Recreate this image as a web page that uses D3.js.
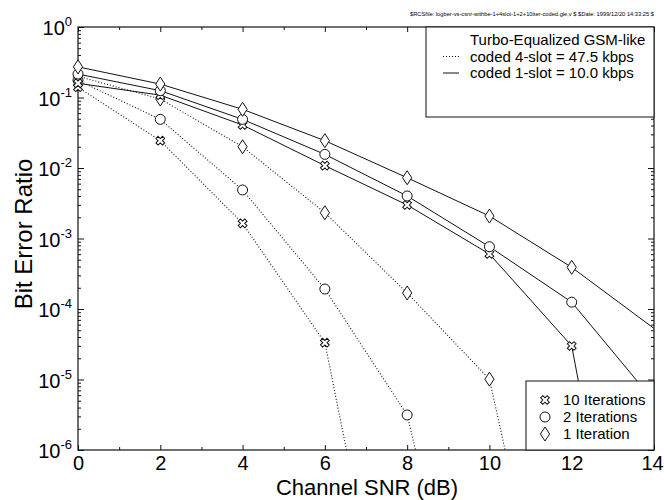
<!DOCTYPE html>
<meta charset="utf-8">
<script src="https://cdn.jsdelivr.net/npm/d3@7"></script>
<style>
    body { margin: 0; background: #fff; }
    text { font-family: 'Liberation Sans', Arial, sans-serif; fill: #000; }
</style>
<div id="chart"></div>
<script>
    // channel SNR in dB
    const snr = [0, 2, 4, 6, 8, 10, 12, 14];

    // coded 1-slot = 10.0 kbps (solid)
    const slot1Iter1 = [0.272, 0.155, 0.068, 0.0244, 0.00728, 0.00208, 3.9e-4, 5.3e-5];
    const slot1Iter2 = [0.215, 0.125, 0.049, 0.0156, 0.00401, 7.65e-4, 1.25e-4, 4.9e-6];
    const slot1Iter10 = [0.159, 0.108, 0.0407, 0.0108, 0.00299, 6.03e-4, 2.99e-5, 2.1e-11];

    // coded 4-slot = 47.5 kbps (dotted)
    const slot4Iter1 = [0.2, 0.0952, 0.02, 0.00232, 1.69e-4, 1.01e-5, 5.4e-11, null];
    const slot4Iter2 = [0.175, 0.049, 0.00488, 1.92e-4, 3.14e-6, 4.3e-11, null, null];
    const slot4Iter10 = [0.14, 0.0244, 0.00164, 3.33e-5, 5.4e-11, null, null, null];

    const xMajorTicks = [0, 2, 4, 6, 8, 10, 12, 14];
    const xMinorTicks = [1, 3, 5, 7, 9, 11, 13];
    const yExponents = [0, -1, -2, -3, -4, -5, -6];

    const header = "$RCSfile: logber-vs-csnr-withbe-1+4slot-1+2+10iter-coded.gle,v $ $Date: 1999/12/20 14:33:25 $";
    const legendSlots = ["Turbo-Equalized GSM-like", "coded 4-slot = 47.5 kbps", "coded 1-slot = 10.0 kbps"];
    const legendIters = ["10 Iterations", "2 Iterations", "1 Iteration"];

    let margin = {top: 27, right: 10, bottom: 50, left: 78},
        width = 664 - margin.left - margin.right,
        height = 500 - margin.top - margin.bottom;

    let svg = d3.select("#chart")
        .append("svg")
        .attr("width", 664)
        .attr("height", 500);

    let g = svg.append("g")
        .attr("transform", "translate(" + margin.left + "," + margin.top + ")");

    let x = d3.scaleLinear().domain([0, 14]).range([0, width]);
    let y = d3.scaleLog().domain([1e-6, 1]).range([height, 0]);

    // minor log ticks 2..9 in each decade
    let yMinor = [];
    for (let e = -6; e < 0; e++) {
        for (let m = 2; m <= 9; m++) yMinor.push(m * Math.pow(10, e));
    }

    function styleAxis(sel) {
        sel.select(".domain").remove();
        sel.selectAll("line").attr("stroke", "#111").attr("stroke-width", 1);
    }

    // bottom axis
    g.append("g")
        .attr("transform", "translate(0," + height + ")")
        .call(d3.axisBottom(x).tickValues(xMajorTicks).tickSizeInner(-5).tickSizeOuter(0).tickPadding(6))
        .call(styleAxis)
        .selectAll("text")
        .style("font-size", "20px")
        .style("font-family", "'Liberation Sans', Arial, sans-serif")
        .filter(function (d) { return d === 14; })
        .attr("dx", "-2px");
    g.append("g")
        .attr("transform", "translate(0," + height + ")")
        .call(d3.axisBottom(x).tickValues(xMinorTicks).tickSize(-3).tickFormat(""))
        .call(styleAxis);
    // top axis
    g.append("g")
        .call(d3.axisTop(x).tickValues(xMajorTicks).tickSize(-5).tickFormat(""))
        .call(styleAxis);
    g.append("g")
        .call(d3.axisTop(x).tickValues(xMinorTicks).tickSize(-3).tickFormat(""))
        .call(styleAxis);

    // left / right axes
    let yMajor = yExponents.map(function (e) { return Math.pow(10, e); });
    g.append("g")
        .call(d3.axisLeft(y).tickValues(yMajor).tickSize(-6).tickFormat(""))
        .call(styleAxis);
    g.append("g")
        .call(d3.axisLeft(y).tickValues(yMinor).tickSize(-3).tickFormat(""))
        .call(styleAxis);
    g.append("g")
        .attr("transform", "translate(" + width + ",0)")
        .call(d3.axisRight(y).tickValues(yMajor).tickSize(-6).tickFormat(""))
        .call(styleAxis);
    g.append("g")
        .attr("transform", "translate(" + width + ",0)")
        .call(d3.axisRight(y).tickValues(yMinor).tickSize(-3).tickFormat(""))
        .call(styleAxis);

    // y tick labels 10^n
    yExponents.forEach(function (e) {
        let t = g.append("text")
            .attr("x", -6)
            .attr("y", y(Math.pow(10, e)) + 8)
            .attr("text-anchor", "end");
        t.append("tspan").style("font-size", "20px").text("10");
        t.append("tspan").style("font-size", "13px").attr("dy", -9).text(e);
    });

    // frame
    g.append("rect")
        .attr("width", width)
        .attr("height", height)
        .attr("fill", "none")
        .attr("stroke", "#111")
        .attr("stroke-width", 1.2);

    // clip for the curves
    svg.append("clipPath").attr("id", "plotclip")
        .append("rect").attr("width", width).attr("height", height);

    let line = d3.line()
        .defined(function (d) { return d[1] !== null; })
        .x(function (d) { return x(d[0]); })
        .y(function (d) { return y(d[1]); });

    const series = [
        {v: slot4Iter10, dotted: true, mark: "cross"},
        {v: slot4Iter2, dotted: true, mark: "circle"},
        {v: slot4Iter1, dotted: true, mark: "diamond"},
        {v: slot1Iter10, dotted: false, mark: "cross"},
        {v: slot1Iter2, dotted: false, mark: "circle"},
        {v: slot1Iter1, dotted: false, mark: "diamond"}
    ];

    let curves = g.append("g").attr("clip-path", "url(#plotclip)");
    series.forEach(function (s) {
        let pts = snr.map(function (d, i) { return [d, s.v[i]]; });
        curves.append("path")
            .datum(pts)
            .attr("d", line)
            .attr("fill", "none")
            .attr("stroke", "#111")
            .attr("stroke-width", s.dotted ? 1.1 : 1)
            .attr("stroke-dasharray", s.dotted ? "1,2" : null);
    });

    function drawMarker(sel, kind, cx, cy) {
        if (kind === "circle") {
            sel.append("circle").attr("cx", cx).attr("cy", cy).attr("r", 5)
                .attr("fill", "#fff").attr("stroke", "#111").attr("stroke-width", 1);
        } else if (kind === "diamond") {
            sel.append("path").attr("d", "M0,-7L4.6,0L0,7L-4.6,0Z")
                .attr("transform", "translate(" + cx + "," + cy + ")")
                .attr("fill", "#fff").attr("stroke", "#111").attr("stroke-width", 1);
        } else {
            sel.append("path").attr("d", d3.symbol().type(d3.symbolCross).size(48)())
                .attr("transform", "translate(" + cx + "," + cy + ") rotate(45)")
                .attr("fill", "#fff").attr("stroke", "#111").attr("stroke-width", 1);
        }
    }

    // markers only on the simulated points (the 14 dB values just carry the line to the frame)
    let marks = g.append("g");
    series.forEach(function (s) {
        snr.forEach(function (d, i) {
            let v = s.v[i];
            if (d >= 14 || v === null || v < 1e-6 || v > 1) return;
            drawMarker(marks, s.mark, x(d), y(v));
        });
    });

    // legend: slots
    let leg1 = svg.append("g");
    leg1.append("rect")
        .attr("x", 426).attr("y", 27).attr("width", 228).attr("height", 90)
        .attr("fill", "#fff").attr("stroke", "#111").attr("stroke-width", 1);
    legendSlots.forEach(function (txt, i) {
        let cy = 40 + i * 16.5;
        leg1.append("text").attr("x", 470).attr("y", cy + 5.3)
            .style("font-size", "15px").text(txt);
        if (i > 0) {
            leg1.append("line").attr("x1", 443).attr("x2", 459).attr("y1", cy).attr("y2", cy)
                .attr("stroke", "#111").attr("stroke-width", 1)
                .attr("stroke-dasharray", i === 1 ? "1,2" : null);
        }
    });

    // legend: iterations
    let leg2 = svg.append("g");
    leg2.append("rect")
        .attr("x", 526).attr("y", 381).attr("width", 128).attr("height", 69)
        .attr("fill", "#fff").attr("stroke", "#111").attr("stroke-width", 1);
    const legMarks = ["cross", "circle", "diamond"];
    legendIters.forEach(function (txt, i) {
        let cy = 400 + i * 17;
        drawMarker(leg2, legMarks[i], 545, cy);
        leg2.append("text").attr("x", 563).attr("y", cy + 5.3)
            .style("font-size", "15px").text(txt);
    });

    // axis titles
    svg.append("text")
        .attr("x", 367).attr("y", 495)
        .attr("text-anchor", "middle")
        .style("font-size", "22px")
        .text("Channel SNR (dB)");
    svg.append("text")
        .attr("transform", "translate(32,234) rotate(-90)")
        .attr("text-anchor", "middle")
        .style("font-size", "24px")
        .text("Bit Error Ratio");

    // RCS header
    svg.append("text")
        .attr("x", 410).attr("y", 16)
        .attr("textLength", 244)
        .attr("lengthAdjust", "spacingAndGlyphs")
        .style("font-size", "6px")
        .text(header);
</script>
